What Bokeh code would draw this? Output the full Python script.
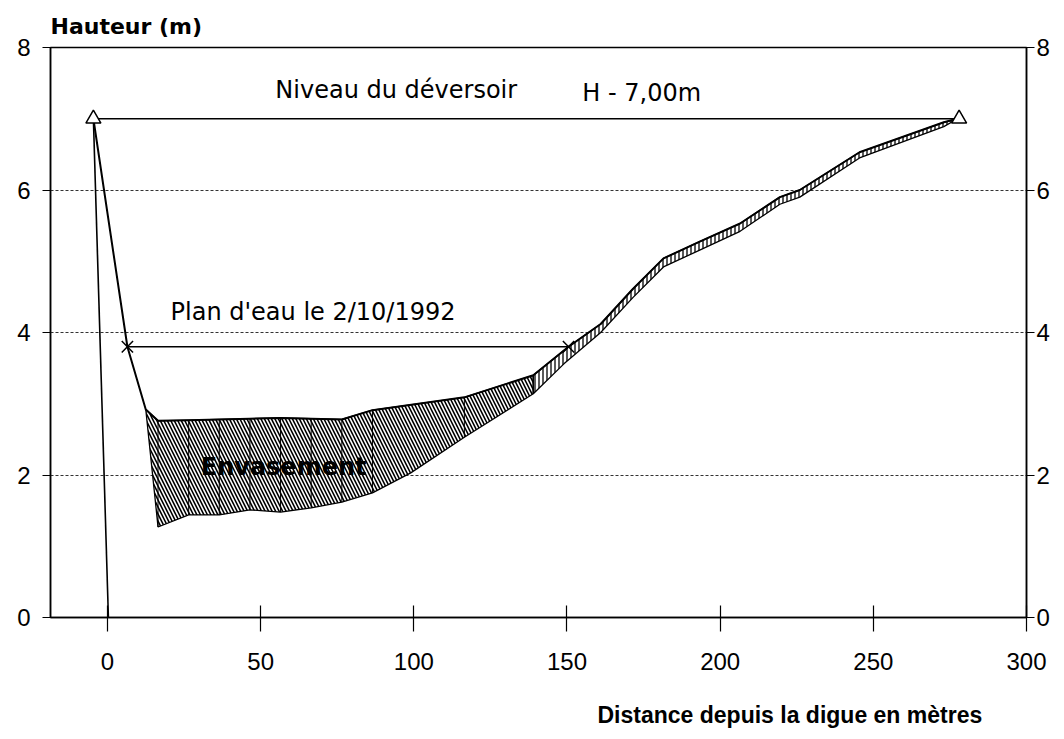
from bokeh.plotting import figure
from bokeh.models import LinearAxis, FixedTicker, Range1d, Title, Label
from bokeh.embed import file_html
from bokeh.resources import INLINE
import numpy as np

# ---- data ----
# current bed (top of the silt), distance (m) / height (m)
bed_x = [-4.6, 6.5, 12.5, 16.5, 26.5, 36.5, 46.5, 56.5, 66.5, 76.5, 86.5, 116.5, 139.0,
         150.5, 161.0, 171.5, 181.5, 193.5, 206.5, 219.5, 226.0, 245.5, 273.0, 277.5]
bed_y = [7.0, 3.8, 2.92, 2.76, 2.77, 2.78, 2.79, 2.80, 2.79, 2.78, 2.91, 3.09, 3.40,
         3.80, 4.12, 4.61, 5.04, 5.28, 5.53, 5.90, 6.00, 6.53, 6.95, 7.0]
# original bed (bottom of the silt)
orig_x = [12.5, 16.5, 26.5, 36.5, 46.5, 56.5, 66.5, 76.5, 86.5, 99.0, 116.5, 139.0,
          149.0, 161.0, 171.5, 181.5, 193.5, 206.5, 219.5, 226.0, 245.5, 273.0, 277.5]
orig_y = [2.92, 1.27, 1.44, 1.44, 1.51, 1.48, 1.54, 1.62, 1.75, 2.03, 2.53, 3.14,
          3.56, 4.00, 4.49, 4.92, 5.16, 5.42, 5.80, 5.90, 6.45, 6.89, 7.0]
station_x = [16.5, 26.5, 36.5, 46.5, 56.5, 66.5, 76.5, 86.5, 116.5, 139.0]
band_start = 139.0

weir_x = [-4.6, 278.0]
weir_level = 7.0
water_x = [6.5, 150.5]
water_level = 3.8
dam_x = [-4.6, 0.3]
dam_y = [7.0, 0.0]

x_ticks = [0, 50, 100, 150, 200, 250, 300]
y_ticks = [0, 2, 4, 6, 8]

# ---- figure ----
p = figure(frame_width=976, frame_height=570, x_range=Range1d(-18.6, 300), y_range=Range1d(0, 8),
           output_backend="svg", toolbar_location=None,
           min_border_left=50, min_border_right=30, min_border_top=47, min_border_bottom=118)
p.background_fill_color = "white"
p.border_fill_color = "white"
p.outline_line_color = "black"
p.outline_line_width = 1.5

p.title.text = "Hauteur (m)"
p.title.align = "left"
p.title.text_font = "DejaVu Sans"
p.title.text_font_size = "22px"
p.title.text_font_style = "bold"
p.title.text_color = "black"
p.title.standoff = 17

tick_font = "Liberation Sans"
p.xaxis.ticker = FixedTicker(ticks=x_ticks)
p.yaxis.ticker = FixedTicker(ticks=y_ticks)
p.xaxis.major_tick_in = 12
p.xaxis.major_tick_out = 14
p.xaxis.major_label_standoff = 21
p.yaxis.major_tick_in = 0
p.yaxis.major_tick_out = 8
p.yaxis.major_label_standoff = 12

ra = LinearAxis(ticker=FixedTicker(ticks=y_ticks))
ra.major_tick_in = 0
ra.major_tick_out = 8
ra.major_label_standoff = 2
p.add_layout(ra, "right")

for ax in [p.xaxis[0], p.yaxis[0], ra]:
    ax.minor_tick_line_color = None
    ax.axis_line_color = "black"
    ax.axis_line_width = 1.5
    ax.major_tick_line_color = "black"
    ax.major_tick_line_width = 1.2
    ax.major_label_text_font = tick_font
    ax.major_label_text_font_size = "24px"
    ax.major_label_text_color = "black"

p.xgrid.visible = False
p.ygrid.ticker = FixedTicker(ticks=[2, 4, 6])
p.ygrid.grid_line_color = "#333333"
p.ygrid.grid_line_dash = "3 2"
p.ygrid.grid_line_width = 1

# ---- silt hatched areas ----
bx = np.array(bed_x); by = np.array(bed_y)
ox = np.array(orig_x); oy = np.array(orig_y)

def section(lo, hi):
    mb = (bx >= lo) & (bx <= hi)
    mo = (ox >= lo) & (ox <= hi)
    xs = list(bx[mb]) + list(ox[mo][::-1])
    ys = list(by[mb]) + list(oy[mo][::-1])
    return xs, ys

lx, ly = section(ox.min(), band_start)
rx, ry = section(band_start, ox.max())
p.patch(lx, ly, fill_color="white", fill_alpha=1, hatch_pattern="\\", hatch_color="black",
        hatch_scale=7, hatch_weight=1.6, line_color="black", line_width=1.3)
p.patch(rx, ry, fill_color="white", fill_alpha=1, hatch_pattern="|", hatch_color="black",
        hatch_scale=4, hatch_weight=1.3, line_color="black", line_width=1.3)

# station verticals
sx = np.array(station_x)
p.segment(x0=sx, y0=np.interp(sx, ox, oy), x1=sx, y1=np.interp(sx, bx, by),
          line_color="black", line_width=1)

# profile lines
p.line(bed_x, bed_y, line_color="black", line_width=2)
p.line(dam_x, dam_y, line_color="black", line_width=1.6)

# weir level
p.line(weir_x, [weir_level] * len(weir_x), line_color="black", line_width=1.6)
p.scatter(weir_x, [weir_level] * len(weir_x), marker="triangle", size=15,
          fill_color="white", line_color="black", line_width=1.5)

# water level
p.line(water_x, [water_level] * len(water_x), line_color="black", line_width=1.6)
p.scatter(water_x, [water_level] * len(water_x), marker="x", size=16,
          line_color="black", line_width=1.5)

# ---- labels ----
lab_font = "DejaVu Sans"
p.add_layout(Label(x=54.8, y=7.41, text="Niveau du déversoir", text_font=lab_font,
                   text_font_size="24px", text_baseline="alphabetic", text_color="black"))
p.add_layout(Label(x=155.0, y=7.36, text="H - 7,00m", text_font=lab_font,
                   text_font_size="24px", text_baseline="alphabetic", text_color="black"))
p.add_layout(Label(x=20.6, y=4.29, text="Plan d'eau le 2/10/1992", text_font=lab_font,
                   text_font_size="24px", text_baseline="alphabetic", text_color="black"))
p.add_layout(Label(x=57.5, y=2.11, text="Envasement", text_font=lab_font,
                   text_font_size="24px", text_font_style="bold", text_align="center",
                   text_baseline="alphabetic", text_color="black"))

xt = Title(text="Distance depuis la digue en mètres", align="left",
           text_font="Liberation Sans", text_font_size="23px", text_font_style="bold",
           text_color="black", offset=547, standoff=55)
p.add_layout(xt, "below")

open("out.html", "w").write(file_html(p, INLINE))
